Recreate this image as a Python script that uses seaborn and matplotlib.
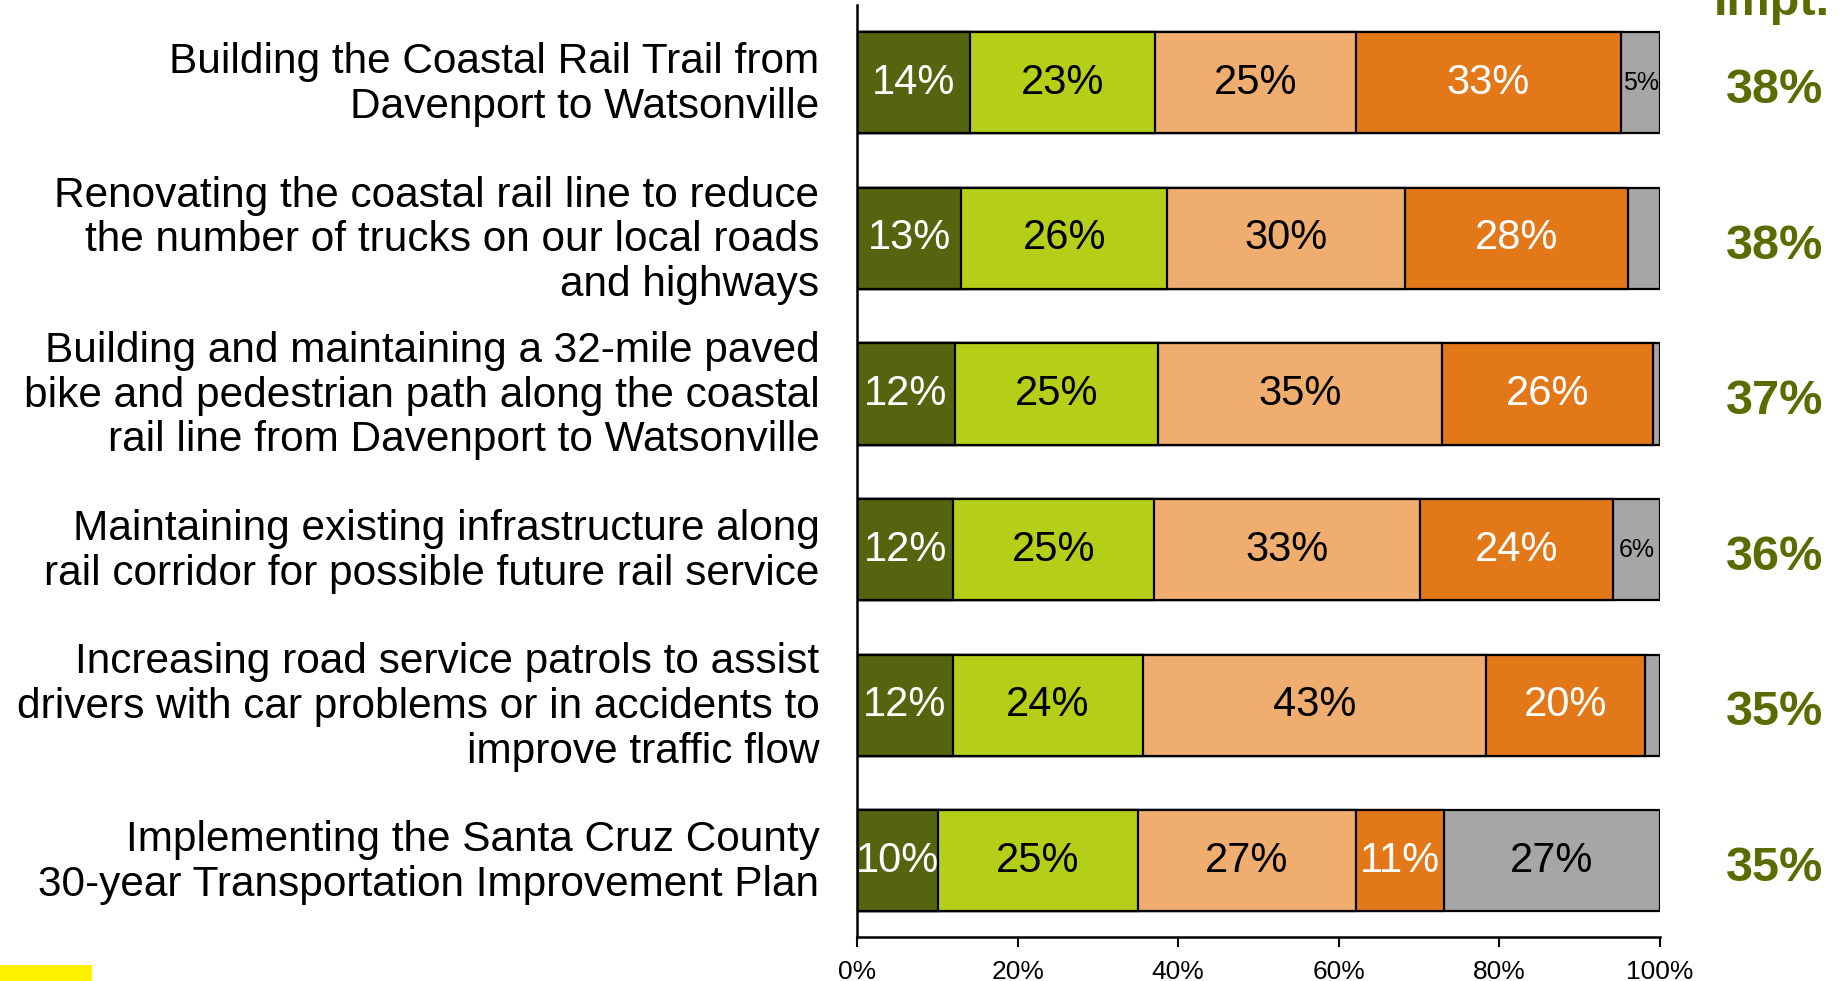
import matplotlib
matplotlib.use("Agg")
import matplotlib.pyplot as plt
import matplotlib.transforms as mtransforms
import seaborn as sns
import pandas as pd
import numpy as np
from matplotlib.patches import Rectangle

categories = [
    "Building the Coastal Rail Trail from\nDavenport to Watsonville",
    "Renovating the coastal rail line to reduce\nthe number of trucks on our local roads\nand highways",
    "Building and maintaining a 32-mile paved\nbike and pedestrian path along the coastal\nrail line from Davenport to Watsonville",
    "Maintaining existing infrastructure along\nrail corridor for possible future rail service",
    "Increasing road service patrols to assist\ndrivers with car problems or in accidents to\nimprove traffic flow",
    "Implementing the Santa Cruz County\n30-year Transportation Improvement Plan",
]
s1 = [14.1, 13.0, 12.2, 12.0, 11.9, 10.1]
s2 = [23.0, 25.6, 25.3, 25.0, 23.7, 24.9]
s3 = [25.0, 29.7, 35.4, 33.1, 42.7, 27.1]
s4 = [33.1, 27.7, 26.2, 24.0, 19.8, 11.0]
s5 = [4.8, 4.0, 0.9, 5.9, 1.9, 26.9]
impt = [38, 38, 37, 36, 35, 35]

colors = ["#55640f", "#b5cf18", "#f0ad70", "#e37819", "#a6a6a6"]
text_colors = ["white", "black", "black", "white", "black"]

sns.set_theme(style="white")
plt.rcParams["font.family"] = ["Liberation Sans", "DejaVu Sans"]
plt.rcParams["text.color"] = "black"
plt.rcParams["xtick.color"] = "black"
plt.rcParams["ytick.color"] = "black"
plt.rcParams["xtick.labelcolor"] = "black"
plt.rcParams["ytick.labelcolor"] = "black"

fig = plt.figure(figsize=(18.45, 9.81), dpi=100)
ax = fig.add_axes([857/1845, 44/981, (1660-857)/1845, (976-44)/981])

segs = np.array([s1, s2, s3, s4, s5])
cum = np.cumsum(segs, axis=0)
df = pd.DataFrame({"cat": categories})
for k in range(4, -1, -1):
    df["v"] = cum[k]
    sns.barplot(data=df, x="v", y="cat", order=categories, orient="h",
                color=colors[k], saturation=1, width=0.65,
                edgecolor="black", linewidth=1.6, ax=ax)

# segment labels
for i in range(len(categories)):
    left = 0
    for k in range(5):
        w = segs[k][i]
        val = int(round(w))
        if val >= 5:
            small = (k == 4 and w < 8)
            ax.text(left + w/2, i, f"{val}%", ha="center", va="center",
                    color=text_colors[k], fontsize=18 if small else 30)
        left += w

ax.set_xlim(0, 100)
ax.set_ylim(5.49, -0.5)
ax.set_xticks([0, 20, 40, 60, 80, 100])
ax.set_xticklabels(["0%", "20%", "40%", "60%", "80%", "100%"],
                   fontsize=19, color="black",
                   family=["Liberation Sans Narrow", "Liberation Sans", "DejaVu Sans"])
ax.tick_params(axis="x", bottom=True, length=7, width=1.5, color="black", pad=9.5)
ax.tick_params(axis="y", left=False, pad=21, labelsize=30.5)
shift = mtransforms.ScaledTranslation(0, 5/100, fig.dpi_scale_trans)
for lab in ax.get_yticklabels():
    lab.set_multialignment("right")
    lab.set_linespacing(1.15)
    lab.set_color("black")
    lab.set_transform(lab.get_transform() + shift)
ax.set_xlabel("")
ax.set_ylabel("")
for sp in ["top", "right"]:
    ax.spines[sp].set_visible(False)
for sp in ["left", "bottom"]:
    ax.spines[sp].set_color("black")
    ax.spines[sp].set_linewidth(1.8)

# importance column
for i, v in enumerate(impt):
    ax.text(1.143, i + 0.05, f"{v}%", transform=ax.get_yaxis_transform(),
            ha="center", va="center", fontsize=35, fontweight="bold", color="#5b6b00")
fig.text(1772/1845, 1 - 15/981, "Impt.", ha="center", va="baseline",
         fontsize=35, fontweight="bold", color="#5b6b00")

fig.patches.append(Rectangle((0, 0), 92/1845, 16/981, transform=fig.transFigure,
                             facecolor="#fff200", edgecolor="none"))

fig.savefig("out.png", dpi=100)
